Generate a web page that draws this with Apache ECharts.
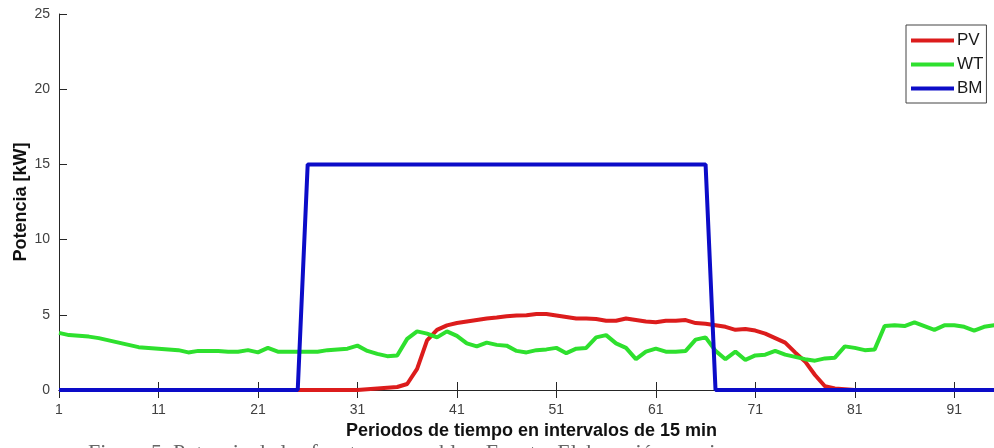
<!DOCTYPE html>
<html>
<head>
<meta charset="utf-8">
<script src="https://cdn.jsdelivr.net/npm/echarts@6/dist/echarts.min.js"></script>
<style>
html,body{margin:0;padding:0;background:#fff;overflow:hidden;width:994px;height:448px;}
#c{width:1004px;height:448px;}
</style>
</head>
<body>
<div id="c"></div>
<script>
const periods = Array.from({length: 96}, (_, i) => String(i + 1));
const seriesNames = ['PV', 'WT', 'BM'];
const pvValues = [
  0,0,0,0,0,0,0,0,0,0,
  0,0,0,0,0,0,0,0,0,0,
  0,0,0,0,0,0,0,0,0,0,
  0.0,0.05,0.1,0.15,0.2,0.4,1.4,3.3,4.0,4.3,
  4.45,4.55,4.65,4.75,4.82,4.9,4.95,4.97,5.05,5.05,
  4.95,4.85,4.75,4.75,4.72,4.6,4.6,4.75,4.65,4.55,
  4.5,4.6,4.6,4.65,4.45,4.4,4.3,4.2,4.0,4.05,
  3.95,3.75,3.45,3.15,2.5,1.9,1.0,0.25,0.1,0.05,
  0,0,0,0,0,0,0,0,0,0,
  0,0,0,0,0,0
];
const wtValues = [
  3.8,3.65,3.6,3.55,3.45,3.3,3.15,3.0,2.85,2.8,
  2.75,2.7,2.65,2.5,2.6,2.6,2.6,2.55,2.55,2.65,
  2.5,2.8,2.55,2.55,2.55,2.55,2.55,2.65,2.7,2.75,
  2.95,2.6,2.4,2.25,2.3,3.4,3.9,3.75,3.5,3.9,
  3.6,3.1,2.9,3.15,3.0,2.95,2.6,2.5,2.65,2.7,
  2.8,2.45,2.75,2.8,3.5,3.65,3.1,2.8,2.05,2.55,
  2.75,2.55,2.55,2.6,3.35,3.5,2.6,2.05,2.55,2.0,
  2.3,2.35,2.6,2.35,2.2,2.05,1.95,2.1,2.15,2.9,
  2.8,2.65,2.7,4.25,4.3,4.25,4.5,4.25,4.0,4.3,
  4.3,4.2,3.95,4.2,4.3,4.35
];
const bmValues = [
  0,0,0,0,0,0,0,0,0,0,
  0,0,0,0,0,0,0,0,0,0,
  0,0,0,0,0,15,15,15,15,15,
  15,15,15,15,15,15,15,15,15,15,
  15,15,15,15,15,15,15,15,15,15,
  15,15,15,15,15,15,15,15,15,15,
  15,15,15,15,15,15,0,0,0,0,
  0,0,0,0,0,0,0,0,0,0,
  0,0,0,0,0,0,0,0,0,0,
  0,0,0,0,0,0
];
const seriesColors = ['#dc1c1c', '#2ee02e', '#0c0cc8'];
const yTicks = {min: 0, max: 25, interval: 5};
const xTitle = 'Periodos de tiempo en intervalos de 15 min';
const yTitle = 'Potencia [kW]';
const caption = 'Figura 5. Potencia de las fuentes renovables. Fuente: Elaboración propia';

const chart = echarts.init(document.getElementById('c'), null, {renderer: 'canvas'});
const axisLineStyle = {color: '#262626', width: 1};
const fontFam = '"Liberation Sans", Arial, sans-serif';
const data = [pvValues, wtValues, bmValues];

chart.setOption({
  animation: false,
  backgroundColor: '#fff',
  grid: {left: 59, top: 14, right: 0, bottom: 58, containLabel: false, outerBoundsMode: 'none'},
  legend: {
    orient: 'vertical',
    left: 906, top: 25,
    data: seriesNames,
    icon: 'rect',
    itemWidth: 43, itemHeight: 4,
    itemGap: 7,
    padding: [7, 3, 6, 5],
    borderColor: '#444', borderWidth: 1,
    backgroundColor: '#fff',
    textStyle: {fontFamily: fontFam, fontSize: 17, color: '#1a1a1a', lineHeight: 17, padding: [0,0,0,-2]}
  },
  xAxis: [{
    type: 'category', data: periods, boundaryGap: false, position: 'bottom',
    axisLine: {show: true, lineStyle: axisLineStyle},
    axisTick: {show: true, inside: true, length: 8, interval: 9, lineStyle: axisLineStyle},
    axisLabel: {interval: 9, margin: 13, fontFamily: fontFam, fontSize: 14, color: '#404040'},
    splitLine: {show: false},
    name: xTitle, nameLocation: 'middle', nameGap: 32, nameMoveOverlap: false,
    nameTextStyle: {fontFamily: fontFam, fontSize: 18, fontWeight: 'bold', color: '#111'}
  }, {
    type: 'category', data: periods, boundaryGap: false, position: 'top',
    axisLine: {show: true, lineStyle: axisLineStyle},
    axisTick: {show: true, inside: true, length: 8, interval: 9, lineStyle: axisLineStyle},
    axisLabel: {show: false}, splitLine: {show: false}
  }],
  yAxis: [{
    type: 'value', min: yTicks.min, max: yTicks.max, interval: yTicks.interval, position: 'left',
    axisLine: {show: true, lineStyle: axisLineStyle},
    axisTick: {show: true, inside: true, length: 8, lineStyle: axisLineStyle},
    axisLabel: {margin: 9, fontFamily: fontFam, fontSize: 14, color: '#404040'},
    splitLine: {show: false},
    name: yTitle, nameLocation: 'middle', nameGap: 29, nameMoveOverlap: false,
    nameTextStyle: {fontFamily: fontFam, fontSize: 18, fontWeight: 'bold', color: '#111'}
  }, {
    type: 'value', min: yTicks.min, max: yTicks.max, interval: yTicks.interval, position: 'right',
    axisLine: {show: true, lineStyle: axisLineStyle},
    axisTick: {show: true, inside: true, length: 8, lineStyle: {color: '#bbb', width: 1}},
    axisLabel: {show: false}, splitLine: {show: false}
  }],
  series: seriesNames.map((n, k) => ({
    name: n, type: 'line', data: data[k], xAxisIndex: 0, yAxisIndex: 0,
    showSymbol: false, symbol: 'none',
    lineStyle: {color: seriesColors[k], width: 4},
    itemStyle: {color: seriesColors[k]},
    z: 2 + k
  })),
  graphic: [{
    type: 'text', left: 88, top: 442, silent: true,
    style: {text: caption, fontFamily: '"Liberation Serif", "Times New Roman", serif', fontSize: 22, fill: '#666'}
  }]
});
</script>
</body>
</html>
